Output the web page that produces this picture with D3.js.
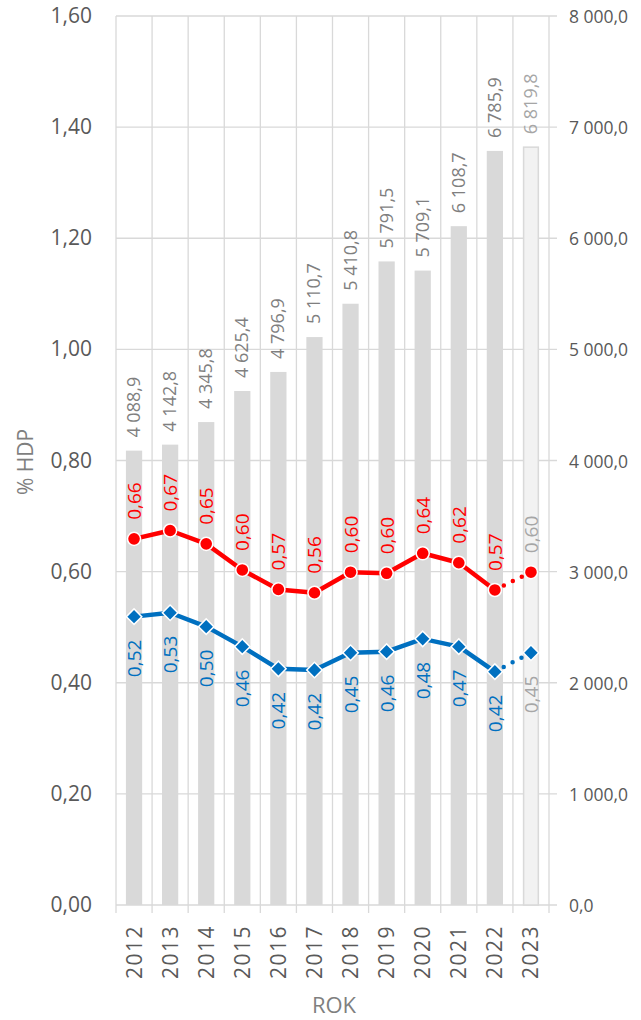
<!DOCTYPE html>
<html>
<head>
<meta charset="utf-8">
<script src="https://cdn.jsdelivr.net/npm/d3@7"></script>
<style>
  body { margin: 0; background: #fff; }
  text { font-family: "Open Sans", sans-serif; }
</style>
</head>
<body>
<div id="graf"></div>
<script>
// Data
const roky = ['2012', '2013', '2014', '2015', '2016', '2017', '2018', '2019', '2020', '2021', '2022', '2023'];
const vydaje = [4088.9, 4142.8, 4345.8, 4625.4, 4796.9, 5110.7, 5410.8, 5791.5, 5709.1, 6108.7, 6785.9, 6819.8];
const cervena = [0.659, 0.674, 0.650, 0.603, 0.568, 0.562, 0.599, 0.597, 0.633, 0.616, 0.567, 0.599];
const cervenaPopisky = ['0,66', '0,67', '0,65', '0,60', '0,57', '0,56', '0,60', '0,60', '0,64', '0,62', '0,57', '0,60'];
const modra = [0.519, 0.526, 0.501, 0.465, 0.425, 0.423, 0.454, 0.456, 0.479, 0.465, 0.420, 0.454];
const modraPopisky = ['0,52', '0,53', '0,50', '0,46', '0,42', '0,42', '0,45', '0,46', '0,48', '0,47', '0,42', '0,45'];
const ticksLevo = [0, 0.2, 0.4, 0.6, 0.8, 1.0, 1.2, 1.4, 1.6];
const ticksPravo = [0, 1000, 2000, 3000, 4000, 5000, 6000, 7000, 8000];

const sirka = 641;
const vyska = 1020;
const okraj = { top: 16, right: 92, bottom: 115, left: 116 };

const svg = d3.select('#graf').append('svg')
  .attr('width', sirka)
  .attr('height', vyska);

const x = d3.scaleBand().domain(roky).range([okraj.left, 549]).paddingInner(0.55).paddingOuter(0.275);
const yL = d3.scaleLinear().domain([0, 1.6]).range([vyska - okraj.bottom, okraj.top]);
const yP = d3.scaleLinear().domain([0, 8000]).range([vyska - okraj.bottom, okraj.top]);
const krok = x.step();
const stred = (i) => x(roky[i]) + x.bandwidth() / 2;
const carka = (v, d) => d3.format(`.${d}f`)(v).replace('.', ',');
const tisice = (v) => {
  const s = d3.format(',.1f')(v).replace(/,/g, ' ');
  return s.replace(/\.(\d)$/, ',$1');
};

const sede = '#d9d9d9';
const y0 = yL(0);

// Mřížka – vodorovné
svg.append('g').selectAll('line').data(ticksLevo).enter().append('line')
  .attr('x1', okraj.left).attr('x2', 557)
  .attr('y1', (d) => yL(d)).attr('y2', (d) => yL(d))
  .attr('stroke', sede).attr('stroke-width', 1.3);

// Mřížka – svislé (hranice kategorií)
const hranice = roky.map((r) => x(r) - (krok - x.bandwidth()) / 2).concat([549]);
svg.append('g').selectAll('line').data(hranice).enter().append('line')
  .attr('x1', (d) => d).attr('x2', (d) => d)
  .attr('y1', okraj.top).attr('y2', y0 + 8)
  .attr('stroke', sede).attr('stroke-width', 1.3);

// Sloupce
svg.append('g').selectAll('rect').data(vydaje).enter().append('rect')
  .attr('x', (d, i) => x(roky[i]) + (i === 11 ? 0.75 : 0))
  .attr('width', (d, i) => x.bandwidth() - (i === 11 ? 1.5 : 0))
  .attr('y', (d) => yP(d))
  .attr('height', (d) => y0 - yP(d))
  .attr('fill', (d, i) => (i === 11 ? '#f2f2f2' : sede))
  .attr('stroke', (d, i) => (i === 11 ? sede : 'none'))
  .attr('stroke-width', 1.5);

// Popisky sloupců
svg.append('g').selectAll('text').data(vydaje).enter().append('text')
  .attr('transform', (d, i) => `translate(${stred(i) + 6},${yP(d) - 13}) rotate(-90)`)
  .attr('font-size', 18)
  .attr('fill', (d, i) => (i === 11 ? '#a6a6a6' : '#7f7f7f'))
  .text((d) => tisice(d));

// Čáry
function kresli(hodnoty, barva, tvar, popisky, nahoru) {
  const g = svg.append('g');
  const linie = d3.line().x((d, i) => stred(i)).y((d) => yL(d));
  g.append('path').datum(hodnoty.slice(0, 11))
    .attr('d', linie)
    .attr('fill', 'none').attr('stroke', barva)
    .attr('stroke-width', 4.5).attr('stroke-linejoin', 'round');
  const posledni = [[stred(10), yL(hodnoty[10])], [stred(11), yL(hodnoty[11])]];
  g.append('path').datum(posledni)
    .attr('d', d3.line())
    .attr('fill', 'none').attr('stroke', barva)
    .attr('stroke-width', 4.5).attr('stroke-linecap', 'round')
    .attr('stroke-dasharray', '0 10');
  const jeKruh = tvar === d3.symbolCircle;
  const sym = d3.symbol().type(tvar).size(jeKruh ? 135 : 120);
  g.selectAll('path.bod').data(hodnoty).enter().append('path')
    .attr('class', 'bod')
    .attr('d', sym)
    .attr('transform', (d, i) => `translate(${stred(i)},${yL(d)})${jeKruh ? '' : ' rotate(45)'}`)
    .attr('fill', barva).attr('stroke', '#fff').attr('stroke-width', 1.5);
  g.selectAll('text').data(hodnoty).enter().append('text')
    .attr('transform', (d, i) => `translate(${stred(i) + 7},${nahoru ? yL(d) - 19 : yL(d) + 23}) rotate(-90)`)
    .attr('text-anchor', nahoru ? 'start' : 'end')
    .attr('font-size', 19)
    .attr('fill', (d, i) => (i === 11 ? '#a6a6a6' : barva))
    .text((d, i) => popisky[i]);
}
kresli(cervena, '#ff0000', d3.symbolCircle, cervenaPopisky, true);
kresli(modra, '#0070c0', d3.symbolSquare, modraPopisky, false);

// Osa vlevo
svg.append('g').selectAll('text').data(ticksLevo).enter().append('text')
  .attr('x', 92).attr('y', (d) => yL(d) + 7)
  .attr('text-anchor', 'end').attr('font-size', 21).attr('fill', '#595959')
  .text((d) => carka(d, 2));

// Osa vpravo
svg.append('g').selectAll('text').data(ticksPravo).enter().append('text')
  .attr('x', 569).attr('y', (d) => yP(d) + 7)
  .attr('font-size', 17.5).attr('fill', '#595959')
  .text((d) => tisice(d));

// Roky
svg.append('g').selectAll('text').data(roky).enter().append('text')
  .attr('transform', (d, i) => `translate(${stred(i) + 7.5},${y0 + 20}) rotate(-90)`)
  .attr('text-anchor', 'end').attr('font-size', 21).attr('fill', '#595959')
  .attr('letter-spacing', 1.5)
  .text((d) => d);

// Názvy os
svg.append('text')
  .attr('transform', `translate(33,462) rotate(-90)`)
  .attr('text-anchor', 'middle').attr('font-size', 21).attr('fill', '#7f7f7f')
  .text('% HDP');

svg.append('text')
  .attr('x', 334).attr('y', 1013)
  .attr('text-anchor', 'middle').attr('font-size', 22).attr('fill', '#7f7f7f')
  .text('ROK');
</script>
</body>
</html>
